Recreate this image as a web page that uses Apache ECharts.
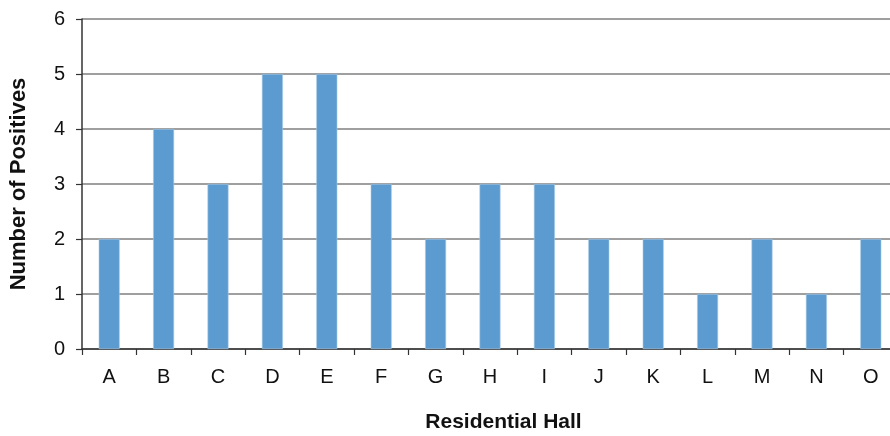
<!DOCTYPE html>
<html>
<head>
<meta charset="utf-8">
<script src="https://cdn.jsdelivr.net/npm/echarts@6/dist/echarts.min.js"></script>
<style>
html,body{margin:0;padding:0;background:#fff;}
#chart{width:890px;height:436px;}
</style>
</head>
<body>
<div id="chart"></div>
<script>
// Positive cases per residential hall
const halls = ['A','B','C','D','E','F','G','H','I','J','K','L','M','N','O'];
const positives = [2,4,3,5,5,3,2,3,3,2,2,1,2,1,2];
const yTicks = {min: 0, max: 6, interval: 1};

const chart = echarts.init(document.getElementById('chart'), null, {renderer: 'canvas'});
chart.setOption({
  animation: false,
  textStyle: {fontFamily: 'Liberation Sans, Arial, sans-serif'},
  grid: {left: 82, right: -8, top: 19, bottom: 87, containLabel: false, outerBoundsMode: 'none'},
  xAxis: {
    type: 'category',
    data: halls,
    name: 'Residential Hall',
    nameLocation: 'middle',
    nameGap: 63,
    nameTextStyle: {fontSize: 21, fontWeight: 'bold', color: '#111', padding: [0, 0, 0, 27]},
    axisLine: {lineStyle: {color: '#333', width: 1.5}},
    axisTick: {show: true, length: 6, lineStyle: {color: '#333', width: 1.2}},
    axisLabel: {fontSize: 20, color: '#111', margin: 18}
  },
  yAxis: {
    type: 'value',
    min: yTicks.min, max: yTicks.max, interval: yTicks.interval,
    name: 'Number of Positives',
    nameLocation: 'middle',
    nameGap: 52,
    nameTextStyle: {fontSize: 22, fontWeight: 'bold', color: '#111'},
    axisLine: {show: true, lineStyle: {color: '#333', width: 1.5}},
    axisTick: {show: true, length: 6, lineStyle: {color: '#333', width: 1.2}},
    axisLabel: {fontSize: 20, color: '#111', margin: 17},
    splitLine: {lineStyle: {color: '#7f7f7f', width: 1.5}}
  },
  series: [{
    type: 'bar',
    data: positives,
    barWidth: 21,
    itemStyle: {color: '#5b9bcf', borderColor: '#a9c9e6', borderWidth: 0.6}
  }]
});
</script>
</body>
</html>
